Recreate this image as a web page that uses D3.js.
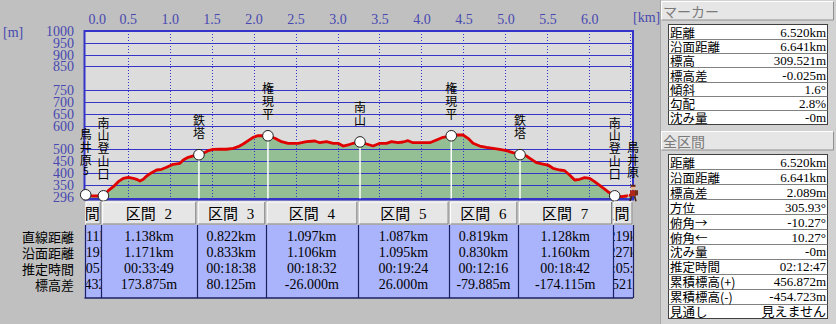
<!DOCTYPE html>
<html>
<head>
<meta charset="utf-8">
<script src="https://cdn.jsdelivr.net/npm/d3@7"></script>
<style>
  html, body { margin: 0; padding: 0; background: #c0c0c0; }
  svg { display: block; }
</style>
</head>
<body>
<svg id="chart" width="836" height="324"></svg>
<script>
// axis ticks
const yTicks = [296, 350, 400, 450, 500, 600, 650, 700, 750, 850, 900, 950, 1000];
const xTicks = [0, 0.5, 1.0, 1.5, 2.0, 2.5, 3.0, 3.5, 4.0, 4.5, 5.0, 5.5, 6.0];

// elevation profile (km, m)
const profileKm = [0, 0.09, 0.211, 0.269, 0.329, 0.388, 0.448, 0.507, 0.567, 0.607, 0.646, 0.686, 0.726, 0.786, 0.845, 0.905, 0.964, 1.043, 1.123, 1.162, 1.221, 1.281, 1.349,
  1.40, 1.46, 1.519, 1.599, 1.679, 1.757, 1.817, 1.876, 1.936, 1.995, 2.055, 2.11, 2.171,
  2.254, 2.333, 2.412, 2.531, 2.631, 2.73, 2.789, 2.869, 2.948, 3.007, 3.067, 3.126, 3.186, 3.268,
  3.345, 3.424, 3.504, 3.583, 3.643, 3.721, 3.781, 3.84, 3.9, 4.0, 4.099, 4.179, 4.257, 4.355,
  4.417, 4.495, 4.555, 4.614, 4.694, 4.774, 4.852, 4.932, 5.012, 5.09, 5.174,
  5.25, 5.31, 5.369, 5.448, 5.507, 5.567, 5.646, 5.706, 5.765, 5.825, 5.885, 5.944, 6.004, 6.063, 6.143, 6.221, 6.302,
  6.384, 6.443, 6.52];
const profileElev = [307.4, 302.3, 303.0, 324.7, 341.7, 362.8, 377.2, 381.4, 377.2, 373.0, 365.8, 373.0, 386.9, 400.9, 412.3, 415.2, 423.7, 436.4, 440.6, 454.6, 466.0, 472.0, 476.9,
  482.9, 493.9, 499.8, 500.0, 500.0, 504.0, 510.8, 522.2, 536.2, 550.5, 557.3, 557.0, 557.0,
  546.3, 531.9, 525.2, 525.2, 531.9, 534.9, 527.7, 531.9, 525.2, 525.2, 513.7, 518.0, 525.2, 531.0,
  522.2, 513.7, 525.2, 525.2, 531.9, 527.7, 530.7, 536.2, 527.7, 527.7, 527.7, 539.1, 550.5, 557.0,
  560.3, 560.3, 546.3, 525.2, 513.7, 508.2, 504.0, 499.8, 493.9, 485.4, 477.1,
  471.5, 457.5, 443.1, 437.6, 433.4, 419.5, 412.3, 409.3, 391.1, 370.0, 373.0, 379.7, 377.2, 362.8, 341.7, 320.5, 303.0,
  299.4, 302.3, 309.5];

// waypoints
const waypointNames = ["鳥井原5", "南山登山口", "鉄塔", "権現平", "南山", "権現平", "鉄塔", "南山登山口", "鳥井原"];
const waypointKm = [0, 0.211, 1.349, 2.171, 3.268, 4.355, 5.174, 6.302, 6.520];
const waypointElev = [307.432, 303.0, 476.875, 557.0, 531.0, 557.0, 477.115, 303.0, 309.521];

// section table
const sectionNames = ["区間 1", "区間 2", "区間 3", "区間 4", "区間 5", "区間 6", "区間 7", "区間 8"];
const rowLabels = ["直線距離", "沿面距離", "推定時間", "標高差"];
const straightDist = ["0.211km", "1.138km", "0.822km", "1.097km", "1.087km", "0.819km", "1.128km", "0.219km"];
const surfaceDist = ["0.219km", "1.171km", "0.833km", "1.106km", "1.095km", "0.830km", "1.160km", "0.227km"];
const estTime = ["00:05:43", "00:33:49", "00:18:38", "00:18:32", "00:19:24", "00:12:16", "00:18:42", "00:05:43"];
const elevDiff = ["-4.432m", "173.875m", "80.125m", "-26.000m", "26.000m", "-79.885m", "-174.115m", "6.521m"];

// side panels
const markerLabels = ["距離", "沿面距離", "標高", "標高差", "傾斜", "勾配", "沈み量"];
const markerValues = ["6.520km", "6.641km", "309.521m", "-0.025m", "1.6°", "2.8%", "-0m"];
const totalLabels = ["距離", "沿面距離", "標高差", "方位", "俯角→", "俯角←", "沈み量", "推定時間", "累積標高(+)", "累積標高(-)", "見通し"];
const totalValues = ["6.520km", "6.641km", "2.089m", "305.93°", "-10.27°", "10.27°", "-0m", "02:12:47", "456.872m", "-454.723m", "見えません"];

const NUM_FONT = '"Liberation Serif", "DejaVu Serif", serif';
const JP_FONT = '"Noto Sans CJK JP", sans-serif';
const MIX_FONT = '"Liberation Serif", "Noto Sans CJK JP", serif';
const BLUE = '#3434c8';
const AXIS_TEXT = '#4848b0';

const svg = d3.select('#chart');

const plot = { left: 84.5, right: 633, top: 31, bottom: 199.5 };
const x = d3.scaleLinear().domain([0, 6.52]).range([85.7, 633]);
const y = d3.scaleLinear().domain([296, 1000]).range([197.5, 31]);

// plot background
svg.append('rect')
  .attr('x', plot.left).attr('y', plot.top)
  .attr('width', plot.right - plot.left).attr('height', plot.bottom - plot.top)
  .attr('fill', '#dcdcdc');

// green area under the profile
const profile = profileKm.map((k, i) => ({ km: k, elev: profileElev[i] }));
const area = d3.area()
  .x(d => x(d.km))
  .y0(plot.bottom)
  .y1(d => y(d.elev));
svg.append('path')
  .datum(profile)
  .attr('d', area)
  .attr('fill', '#94bf94');

// horizontal grid
svg.append('g')
  .selectAll('line')
  .data(yTicks)
  .enter()
  .append('line')
  .attr('x1', plot.left).attr('x2', plot.right)
  .attr('y1', d => Math.round(y(d)) + 0.5)
  .attr('y2', d => Math.round(y(d)) + 0.5)
  .attr('stroke', BLUE)
  .attr('stroke-width', 1.2);

// vertical dotted grid
svg.append('g')
  .selectAll('line')
  .data(xTicks.filter(d => d > 0))
  .enter()
  .append('line')
  .attr('x1', d => Math.round(x(d)) + 0.5)
  .attr('x2', d => Math.round(x(d)) + 0.5)
  .attr('y1', plot.top).attr('y2', plot.bottom)
  .attr('stroke', BLUE)
  .attr('stroke-dasharray', '1,2');
svg.append('line')
  .attr('x1', plot.right - 2.5).attr('x2', plot.right - 2.5)
  .attr('y1', plot.top).attr('y2', plot.bottom)
  .attr('stroke', BLUE).attr('stroke-dasharray', '1,2');

// plot frame
svg.append('rect')
  .attr('x', plot.left).attr('y', plot.top)
  .attr('width', plot.right - plot.left).attr('height', plot.bottom - plot.top)
  .attr('fill', 'none')
  .attr('stroke', BLUE)
  .attr('stroke-width', 2);

// axes
const yAxis = svg.append('g')
  .attr('transform', 'translate(74,0)')
  .call(d3.axisLeft(y).tickValues(yTicks).tickSize(0).tickPadding(0).tickFormat(d3.format('d')));
yAxis.select('.domain').remove();
yAxis.selectAll('text')
  .attr('fill', AXIS_TEXT)
  .style('font-family', NUM_FONT)
  .style('font-size', '14px');

const xAxis = svg.append('g')
  .attr('transform', 'translate(0,24)')
  .call(d3.axisTop(x).tickValues(xTicks).tickSize(0).tickPadding(0).tickFormat(d3.format('.1f')));
xAxis.select('.domain').remove();
xAxis.selectAll('text')
  .attr('fill', AXIS_TEXT)
  .attr('dx', d => d === 0 ? 11 : 0)
  .style('font-family', NUM_FONT)
  .style('font-size', '14px');

svg.append('text')
  .attr('x', 3).attr('y', 37)
  .attr('fill', AXIS_TEXT)
  .style('font-family', NUM_FONT).style('font-size', '14px')
  .text('[m]');
svg.append('text')
  .attr('x', 633).attr('y', 22)
  .attr('fill', AXIS_TEXT)
  .style('font-family', NUM_FONT).style('font-size', '14px')
  .text('[km]');

// white drop lines under waypoints
const waypoints = waypointNames.map((n, i) => ({ name: n, km: waypointKm[i], elev: waypointElev[i], i }));
svg.append('g')
  .selectAll('line')
  .data(waypoints.slice(1, -1))
  .enter()
  .append('line')
  .attr('x1', d => x(d.km)).attr('x2', d => x(d.km))
  .attr('y1', d => y(d.elev)).attr('y2', plot.bottom - 1)
  .attr('stroke', '#ffffff')
  .attr('stroke-width', 1.5);

// profile line
svg.append('path')
  .datum(profile)
  .attr('d', d3.line().x(d => x(d.km)).y(d => y(d.elev)))
  .attr('fill', 'none')
  .attr('stroke', '#e00000')
  .attr('stroke-width', 2.8)
  .attr('stroke-linejoin', 'round');

// markers
svg.append('g')
  .selectAll('circle')
  .data(waypoints.slice(0, -1))
  .enter()
  .append('circle')
  .attr('cx', d => x(d.km))
  .attr('cy', d => y(d.elev))
  .attr('r', 5.3)
  .attr('fill', '#ffffff')
  .attr('stroke', '#202020')
  .attr('stroke-width', 1);

// vertical waypoint labels, one glyph per line
const labels = svg.append('g');
waypoints.forEach(w => {
  const chars = Array.from(w.name);
  const cx = x(w.km);
  const baseY = y(w.elev) - 22.5;
  chars.forEach((c, j) => {
    const half = /[0-9A-Za-z]/.test(c);
    labels.append('text')
      .attr('x', cx)
      .attr('y', baseY - (chars.length - 1 - j) * 12.8 + (half ? -2 : 0))
      .attr('text-anchor', 'middle')
      .attr('dominant-baseline', 'central')
      .attr('fill', '#000')
      .style('font-family', JP_FONT)
      .style('font-size', half ? '10px' : '12px')
      .text(c);
  });
});

// hiker icon at the marker position
const hx = x(6.52), hy = y(309.521);
const hiker = svg.append('g').attr('transform', `translate(${hx},${hy})`);
hiker.append('rect').attr('x', -3).attr('y', -4).attr('width', 6).attr('height', 6).attr('fill', '#b02818');
hiker.append('rect').attr('x', 2).attr('y', -4).attr('width', 3).attr('height', 5).attr('fill', '#703018');
hiker.append('circle').attr('cx', 0).attr('cy', -6.5).attr('r', 2.3).attr('fill', '#e8b890');
hiker.append('rect').attr('x', -2.5).attr('y', -9.5).attr('width', 5).attr('height', 2).attr('fill', '#602010');
hiker.append('line').attr('x1', -1.5).attr('y1', 2).attr('x2', -3).attr('y2', 7).attr('stroke', '#402010').attr('stroke-width', 1.6);
hiker.append('line').attr('x1', 1.5).attr('y1', 2).attr('x2', 3).attr('y2', 7).attr('stroke', '#402010').attr('stroke-width', 1.6);
hiker.append('line').attr('x1', -4).attr('y1', -3).attr('x2', -5).attr('y2', 4).attr('stroke', '#e8e8e8').attr('stroke-width', 0.8);

// ---- section table ----
const tbl = { head: 201.5, headBottom: 224.5, top: 225, bottom: 298 };
const bx = waypointKm.map(k => x(k));
const sepX = bx.map((v, i) => i === 0 ? plot.left : (i === bx.length - 1 ? plot.right : v - 2.2));

svg.append('rect')
  .attr('x', plot.left).attr('y', tbl.top)
  .attr('width', plot.right - plot.left).attr('height', tbl.bottom - tbl.top)
  .attr('fill', '#aab4fc');

const defs = svg.append('defs');
sectionNames.forEach((s, i) => {
  defs.append('clipPath').attr('id', 'col' + i)
    .append('rect')
    .attr('x', sepX[i] + 1).attr('y', tbl.head)
    .attr('width', Math.max(1, sepX[i + 1] - sepX[i] - 1.5))
    .attr('height', tbl.bottom - tbl.head);
});

// header buttons
const heads = svg.append('g')
  .selectAll('g')
  .data(sectionNames)
  .enter()
  .append('g');
heads.append('rect')
  .attr('x', (d, i) => sepX[i] + 1)
  .attr('y', tbl.head)
  .attr('width', (d, i) => sepX[i + 1] - sepX[i] - 1.5)
  .attr('height', tbl.headBottom - tbl.head)
  .attr('fill', '#e6e6e6');
heads.append('path')
  .attr('d', (d, i) => {
    const l = sepX[i] + 1.5, r = sepX[i + 1] - 1;
    return `M${l},${tbl.headBottom - 0.5}V${tbl.head + 0.5}H${r}`;
  })
  .attr('fill', 'none').attr('stroke', '#ffffff');
heads.append('path')
  .attr('d', (d, i) => {
    const l = sepX[i] + 1.5, r = sepX[i + 1] - 1;
    return `M${l},${tbl.headBottom - 0.5}H${r}V${tbl.head + 0.5}`;
  })
  .attr('fill', 'none').attr('stroke', '#808080');
heads.append('text')
  .attr('clip-path', (d, i) => `url(#col${i})`)
  .attr('x', (d, i) => (sepX[i] + sepX[i + 1]) / 2)
  .attr('y', (tbl.head + tbl.headBottom) / 2 + 1)
  .attr('text-anchor', 'middle')
  .attr('dominant-baseline', 'central')
  .style('font-family', MIX_FONT)
  .style('font-size', '15px')
  .style('word-spacing', '5px')
  .text(d => d);

// table body text
const rows = [straightDist, surfaceDist, estTime, elevDiff];
const rowY = [236, 252.3, 268.6, 284.8];
rows.forEach((vals, r) => {
  svg.append('text')
    .attr('x', 74).attr('y', rowY[r])
    .attr('text-anchor', 'end')
    .attr('dominant-baseline', 'central')
    .style('font-family', JP_FONT)
    .style('font-size', '13px')
    .text(rowLabels[r]);
  svg.append('g')
    .selectAll('text')
    .data(vals)
    .enter()
    .append('text')
    .attr('clip-path', (d, i) => `url(#col${i})`)
    .attr('x', (d, i) => (sepX[i] + sepX[i + 1]) / 2)
    .attr('y', rowY[r])
    .attr('text-anchor', 'middle')
    .attr('dominant-baseline', 'central')
    .style('font-family', NUM_FONT)
    .style('font-size', '14px')
    .text(d => d);
});

// table lines
svg.append('g')
  .selectAll('line')
  .data(sepX)
  .enter()
  .append('line')
  .attr('x1', d => Math.round(d) + 0.5).attr('x2', d => Math.round(d) + 0.5)
  .attr('y1', tbl.top).attr('y2', tbl.bottom)
  .attr('stroke', '#1c2060')
  .attr('stroke-width', 1.2);
svg.append('line')
  .attr('x1', plot.left).attr('x2', plot.right)
  .attr('y1', tbl.bottom).attr('y2', tbl.bottom)
  .attr('stroke', '#1c2060').attr('stroke-width', 1.5);

// ---- right panels ----
svg.append('rect')
  .attr('x', 660).attr('y', 0).attr('width', 176).attr('height', 324)
  .attr('fill', '#d2d2d2');
svg.append('line')
  .attr('x1', 660.5).attr('x2', 660.5).attr('y1', 0).attr('y2', 324)
  .attr('stroke', '#a8a8a8');

function drawPanel(title, headTop, tableTop, tableBottom, labs, vals) {
  const g = svg.append('g');
  g.append('rect')
    .attr('x', 661).attr('y', headTop).attr('width', 173).attr('height', 19)
    .attr('fill', '#e6e6e6');
  g.append('path')
    .attr('d', `M661.5,${headTop + 19}V${headTop + 0.5}H833.5`)
    .attr('fill', 'none').attr('stroke', '#ffffff');
  g.append('path')
    .attr('d', `M661.5,${headTop + 19}H833.5V${headTop + 0.5}`)
    .attr('fill', 'none').attr('stroke', '#909090');
  g.append('text')
    .attr('x', 663).attr('y', headTop + 10)
    .attr('dominant-baseline', 'central')
    .attr('fill', '#7a7a7a')
    .style('font-family', JP_FONT)
    .style('font-size', '14px')
    .text(title);

  const rowH = (tableBottom - tableTop) / labs.length;
  g.append('rect')
    .attr('x', 668.5).attr('y', tableTop)
    .attr('width', 159).attr('height', tableBottom - tableTop)
    .attr('fill', '#ffffff')
    .attr('stroke', '#404040');
  g.selectAll('line.sep')
    .data(labs.slice(1))
    .enter()
    .append('line')
    .attr('x1', 668.5).attr('x2', 827.5)
    .attr('y1', (d, i) => Math.round(tableTop + (i + 1) * rowH) + 0.5)
    .attr('y2', (d, i) => Math.round(tableTop + (i + 1) * rowH) + 0.5)
    .attr('stroke', '#808080');
  g.selectAll('text.lab')
    .data(labs)
    .enter()
    .append('text')
    .attr('x', 670)
    .attr('y', (d, i) => tableTop + (i + 0.5) * rowH + 0.5)
    .attr('dominant-baseline', 'central')
    .style('font-family', JP_FONT)
    .style('font-size', '12.5px')
    .text(d => d);
  g.selectAll('text.val')
    .data(vals)
    .enter()
    .append('text')
    .attr('x', 826)
    .attr('y', (d, i) => tableTop + (i + 0.5) * rowH + 0.5)
    .attr('text-anchor', 'end')
    .attr('dominant-baseline', 'central')
    .style('font-family', MIX_FONT)
    .style('font-size', '13px')
    .text(d => d);
}

drawPanel('マーカー', 1, 24.5, 124.5, markerLabels, markerValues);
drawPanel('全区間', 131, 154.5, 318.5, totalLabels, totalValues);
</script>
</body>
</html>
